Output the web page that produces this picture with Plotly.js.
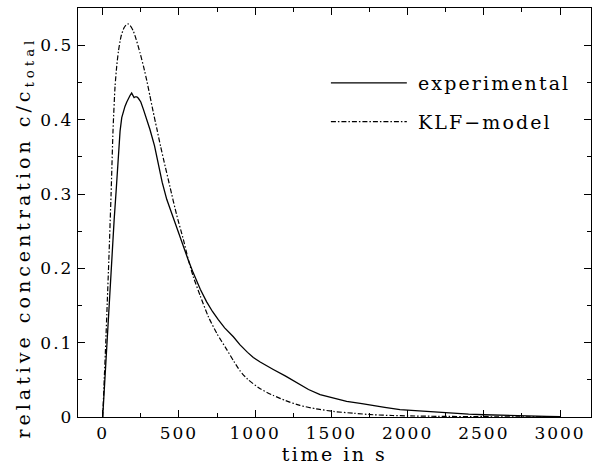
<!DOCTYPE html>
<html>
<head>
<meta charset="utf-8">
<script src="https://cdn.plot.ly/plotly-3.0.1.min.js"></script>
<style>
  body { margin: 0; padding: 0; background: #fff; }
  #chart { width: 594px; height: 470px; }
  .xtick text, .ytick text { letter-spacing: 2px; }
  .g-xtitle text { letter-spacing: 2.5px; }
  .annotation-text { letter-spacing: 2.1px; }
  .annotation[data-index="2"] .annotation-text { letter-spacing: 4px; }
</style>
</head>
<body>
<div id="chart"></div>
<script>
// experimental breakthrough curve
const timeExp = [0, 15, 30, 45, 59, 75, 90, 105, 114, 125, 136, 146, 158, 168, 180, 190, 198, 206, 214, 224, 234, 250, 267, 290, 310, 340, 365, 390, 420, 452, 474, 500, 529, 560, 594, 640, 682, 720, 758, 800, 857, 901, 950, 988, 1033, 1080, 1119, 1200, 1294, 1350, 1426, 1513, 1600, 1700, 1775, 1850, 1950, 2060, 2150, 2235, 2400, 2500, 2606, 2750, 2913, 3000];
const concExp = [0, 0.055, 0.11, 0.165, 0.215, 0.265, 0.31, 0.36, 0.385, 0.403, 0.412, 0.418, 0.424, 0.429, 0.433, 0.436, 0.433, 0.430, 0.431, 0.431, 0.429, 0.424, 0.414, 0.400, 0.387, 0.365, 0.342, 0.316, 0.293, 0.274, 0.262, 0.248, 0.230, 0.212, 0.194, 0.172, 0.155, 0.142, 0.131, 0.120, 0.108, 0.097, 0.087, 0.080, 0.074, 0.069, 0.064, 0.055, 0.044, 0.037, 0.030, 0.025, 0.021, 0.018, 0.015, 0.013, 0.010, 0.0085, 0.007, 0.0055, 0.0038, 0.003, 0.0022, 0.0014, 0.0008, 0.0005];

// KLF-model curve
const timeKLF = [0, 10, 20, 30, 40, 55, 68, 81, 92, 103, 120, 140, 155, 168, 180, 200, 220, 245, 270, 290, 310, 330, 354, 380, 400, 441, 485, 529, 560, 594, 640, 693, 750, 813, 860, 901, 950, 1033, 1119, 1200, 1294, 1400, 1513, 1650, 1774, 1900, 2000, 2200, 2500, 2800, 3000];
const concKLF = [0, 0.05, 0.10, 0.155, 0.21, 0.30, 0.387, 0.445, 0.472, 0.492, 0.512, 0.524, 0.528, 0.529, 0.527, 0.520, 0.508, 0.490, 0.470, 0.452, 0.432, 0.412, 0.389, 0.364, 0.346, 0.310, 0.272, 0.239, 0.213, 0.189, 0.163, 0.135, 0.112, 0.091, 0.075, 0.062, 0.051, 0.038, 0.029, 0.022, 0.0156, 0.011, 0.0075, 0.005, 0.003, 0.002, 0.0015, 0.0009, 0.0004, 0.0002, 0.0001];

const seriesNames = ['experimental', 'KLF\u2212model'];
const xTitle = 'time in s';
const yTitle = 'relative concentration c/c<sub>total</sub>';

const FONT = 'DejaVu Serif';
const DASHDOT = '5px,2px,1.5px,2px';

const traces = [
  { x: timeExp, y: concExp, type: 'scatter', mode: 'lines', name: seriesNames[0],
    line: { color: '#000', width: 1.3 }, showlegend: false },
  { x: timeKLF, y: concKLF, type: 'scatter', mode: 'lines', name: seriesNames[1],
    line: { color: '#000', width: 1.2, dash: DASHDOT, shape: 'spline', smoothing: 0.6 }, showlegend: false }
];

// legend drawn as key lines + labels (paper coordinates)
const legY = [0.817, 0.722];
const shapes = legY.map((y, i) => ({
  type: 'line', xref: 'paper', yref: 'paper', x0: 0.493, x1: 0.641, y0: y, y1: y,
  line: { color: '#000', width: 1.2, dash: i === 0 ? 'solid' : DASHDOT }
}));
const annotations = legY.map((y, i) => ({
  xref: 'paper', yref: 'paper', x: 0.658, y: y, xanchor: 'left', yanchor: 'middle',
  text: seriesNames[i], showarrow: false, font: { family: FONT, size: 19, color: '#000' }
}));
// y-axis title (placed as rotated text to match the reference position)
annotations.push({
  xref: 'paper', yref: 'paper', x: -0.103, y: 0.4377, xanchor: 'center', yanchor: 'middle',
  textangle: -90, text: yTitle, showarrow: false,
  font: { family: FONT, size: 19, color: '#000' }
});

const axisCommon = {
  showline: true, mirror: 'ticks', linecolor: '#000', linewidth: 1.2,
  ticks: 'inside', ticklen: 7, tickwidth: 1, tickcolor: '#000',
  showgrid: false, zeroline: false,
  tickfont: { family: FONT, size: 17, color: '#000' }
};

const layout = {
  width: 594, height: 470,
  margin: { l: 78, r: 3, t: 8, b: 53 },
  paper_bgcolor: '#fff', plot_bgcolor: '#fff',
  font: { family: FONT, color: '#000' },
  xaxis: Object.assign({}, axisCommon, {
    range: [-162, 3203], dtick: 500, tick0: 0,
    minor: { dtick: 250, ticks: 'inside', ticklen: 4, tickcolor: '#000', tickwidth: 1 },
    title: { text: xTitle, font: { family: FONT, size: 19, color: '#000' }, standoff: 4 }
  }),
  yaxis: Object.assign({}, axisCommon, {
    range: [0, 0.5505], dtick: 0.1, tick0: 0,
    minor: { dtick: 0.05, ticks: 'inside', ticklen: 4, tickcolor: '#000', tickwidth: 1 }
  }),
  shapes: shapes,
  annotations: annotations,
  showlegend: false
};

Plotly.newPlot('chart', traces, layout, { displayModeBar: false, staticPlot: true });
</script>
</body>
</html>
